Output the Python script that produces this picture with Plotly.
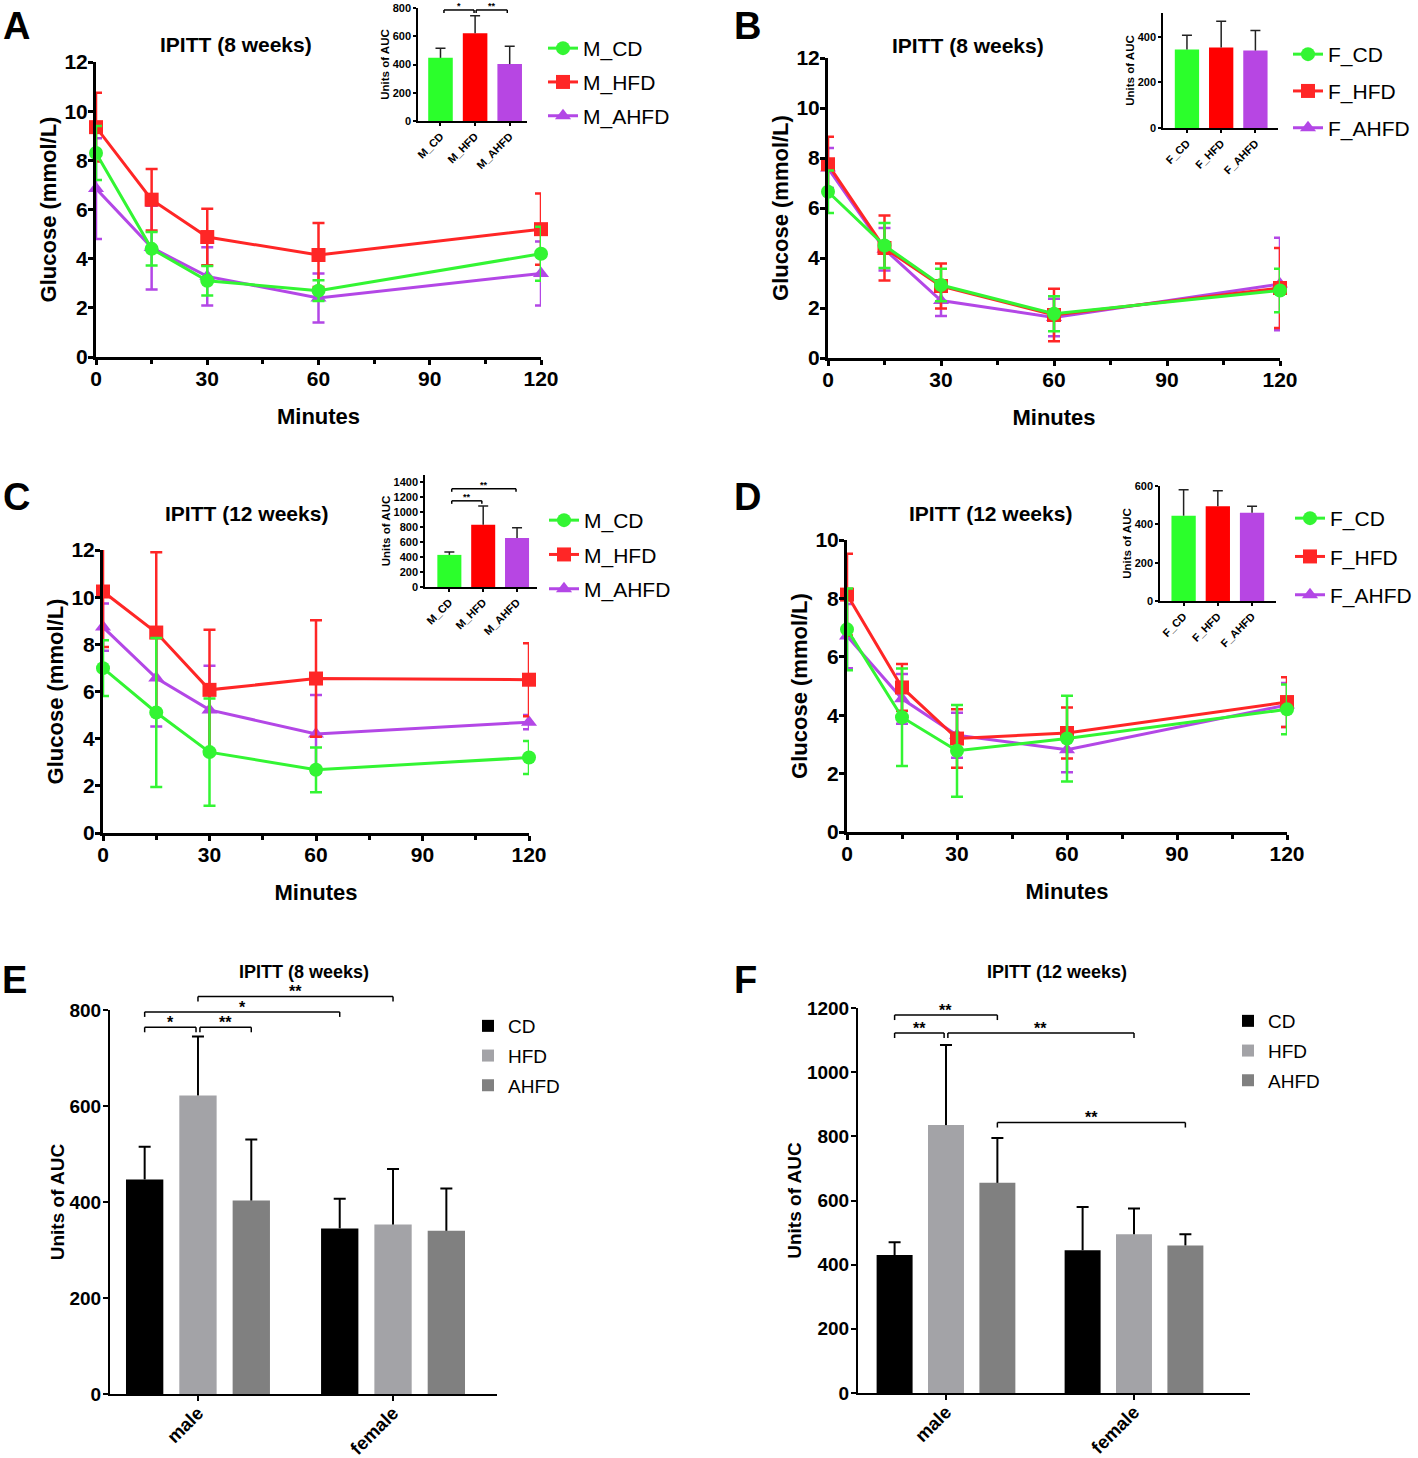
import plotly.graph_objects as go

W, H = 1418, 1458
FONT = 'Liberation Sans, Arial, sans-serif'

minutes = [0, 15, 30, 60, 120]

# A: male, 8 weeks
m8_cd = [8.3, 4.4, 3.1, 2.7, 4.2]
m8_cd_sd = [1.1, 0.68, 0.6, 0.42, 1.1]
m8_hfd = [9.35, 6.4, 4.88, 4.15, 5.2]
m8_hfd_sd = [1.4, 1.25, 1.15, 1.3, 1.45]
m8_ahfd = [6.85, 4.45, 3.28, 2.4, 3.4]
m8_ahfd_sd = [2.05, 1.7, 1.18, 1.0, 1.3]

# B: female, 8 weeks
f8_cd = [6.65, 4.5, 2.92, 1.77, 2.7]
f8_cd_sd = [0.85, 0.9, 0.65, 0.7, 0.87]
f8_hfd = [7.75, 4.4, 2.88, 1.72, 2.8]
f8_hfd_sd = [1.1, 1.3, 0.9, 1.05, 1.6]
f8_ahfd = [7.6, 4.35, 2.3, 1.62, 2.96]
f8_ahfd_sd = [0.8, 0.85, 0.62, 0.75, 1.85]

# C: male, 12 weeks
m12_cd = [6.99, 5.11, 3.43, 2.68, 3.2]
m12_cd_sd = [1.18, 3.16, 2.27, 0.95, 0.7]
m12_hfd = [10.24, 8.5, 6.07, 6.55, 6.5]
m12_hfd_sd = [2.35, 3.4, 2.55, 2.47, 1.55]
m12_ahfd = [8.73, 6.57, 5.22, 4.2, 4.7]
m12_ahfd_sd = [1.0, 2.05, 1.87, 1.65, 0.3]

# D: female, 12 weeks
f12_cd = [6.94, 3.93, 2.78, 3.2, 4.2]
f12_cd_sd = [1.4, 1.67, 1.57, 1.47, 0.85]
f12_hfd = [8.13, 4.95, 3.2, 3.39, 4.45]
f12_hfd_sd = [1.4, 0.8, 1.0, 0.87, 0.85]
f12_ahfd = [6.71, 4.56, 3.31, 2.82, 4.35]
f12_ahfd_sd = [1.1, 0.85, 0.77, 0.77, 0.75]

# AUC (CD, HFD, AHFD)
diets = ['CD', 'HFD', 'AHFD']
sexes = ['male', 'female']
male_labels = ['M_CD', 'M_HFD', 'M_AHFD']
female_labels = ['F_CD', 'F_HFD', 'F_AHFD']
auc8_male = [447, 622, 403]
auc8_male_sd = [68, 123, 127]
auc8_female = [345, 353, 340]
auc8_female_sd = [62, 116, 88]
auc12_male = [430, 835, 655]
auc12_male_sd = [40, 250, 140]
auc12_female = [445, 495, 460]
auc12_female_sd = [135, 80, 35]

line_colors = ['#33f533', '#ff2626', '#b347e6']
bar_colors = ['#2bff2b', '#ff0000', '#b746e3']
grey_colors = ['#000000', '#a3a3a7', '#808080']
symbols = ['circle', 'square', 'triangle-up']
CLEAR = 'rgba(0,0,0,0)'


def fx(p):
    return p / W


def fy(p):
    return 1 - p / H


def bold(size):
    return dict(family=FONT, size=size, color='black', weight='bold')


fig = go.Figure()
ybox = {}  # subplot -> (top px, bottom px, ymax)


def key(n):
    return '' if n == 1 else str(n)


def add_lines(n, series, labels, legend):
    k = key(n)
    # AHFD drawn first so CD ends on top; legendrank keeps CD, HFD, AHFD order
    for i in (2, 1, 0):
        y, sd = series[i]
        col = line_colors[i]
        fig.add_trace(go.Scatter(
            x=minutes, y=y, name=labels[i], mode='lines+markers',
            line=dict(color=col, width=3), marker=dict(color=col, size=14, symbol=symbols[i]),
            error_y=dict(type='data', array=sd, color=col, thickness=2.5, width=6),
            xaxis='x' + k, yaxis='y' + k, legend=legend, legendgroup=labels[i] + legend,
            legendrank=i + 1, cliponaxis=False))


def line_axes(n, xd, yd, ymax):
    k = key(n)
    fig.update_layout(**{
        'xaxis' + k: dict(domain=[fx(xd[0]), fx(xd[1])], anchor='y' + k, range=[0, 120], automargin=False,
                          tickvals=[0, 30, 60, 90, 120], ticks='outside', ticklen=5, tickwidth=3,
                          tickcolor='black', showline=True, linewidth=3, linecolor='black',
                          showgrid=False, zeroline=False, tickfont=bold(21), ticklabelstandoff=-4,
                          minor=dict(tickvals=[15, 45, 75, 105], ticks='outside', ticklen=4, tickwidth=3,
                                     tickcolor='black', showgrid=False),
                          title=dict(text='Minutes', font=bold(22), standoff=20)),
        'yaxis' + k: dict(domain=[fy(yd[1]), fy(yd[0])], anchor='x' + k, range=[0, ymax], dtick=2,
                          automargin=False, ticks='outside', ticklen=5, tickwidth=3, tickcolor='black',
                          showline=True, linewidth=3, linecolor='black', showgrid=False, zeroline=False,
                          tickfont=bold(21), ticklabelstandoff=-4,
                          title=dict(text='Glucose (mmol/L)', font=bold(22), standoff=2)),
    })


def add_inset(n, labels, vals, sds, xd, yd, ymax, dtick):
    k = key(n)
    ybox[n] = (yd[0], yd[1], ymax)
    fig.add_trace(go.Bar(
        x=labels, y=vals, width=0.71, offsetgroup='auc', marker=dict(color=bar_colors, line=dict(width=0)),
        error_y=dict(type='data', array=sds, arrayminus=[0] * len(sds), color='#222222',
                     thickness=1.5, width=0),
        xaxis='x' + k, yaxis='y' + k, showlegend=False))
    # invisible bar whose zero-length error bar draws the cap
    fig.add_trace(go.Bar(
        x=labels, y=[v + s for v, s in zip(vals, sds)], width=0.71, offsetgroup='auc',
        marker=dict(color=CLEAR, line=dict(width=0)),
        error_y=dict(type='data', array=[0] * len(sds), color='#222222', thickness=1.5, width=5),
        xaxis='x' + k, yaxis='y' + k, showlegend=False, hoverinfo='skip'))
    fig.update_layout(**{
        'xaxis' + k: dict(domain=[fx(xd[0]), fx(xd[1])], anchor='y' + k, type='category', automargin=False,
                          range=[xd[2], xd[3]], ticks='outside', ticklen=3, tickwidth=1.5, tickcolor='black',
                          showline=True, linewidth=1.5, linecolor='black', showgrid=False,
                          tickangle=-45, tickfont=bold(11)),
        'yaxis' + k: dict(domain=[fy(yd[1]), fy(yd[0])], anchor='x' + k, range=[0, ymax], dtick=dtick,
                          automargin=False, ticks='outside', ticklen=3, tickwidth=1.5, tickcolor='black',
                          showline=True, linewidth=1.5, linecolor='black', showgrid=False, zeroline=False,
                          tickfont=bold(11),
                          title=dict(text='Units of AUC', font=bold(11.5), standoff=1)),
    })


def add_auc(n, male, male_sd, female, female_sd, legend, xd, yd, ymax):
    k = key(n)
    ybox[n] = (yd[0], yd[1], ymax)
    for i, d in enumerate(diets):
        vals = [male[i], female[i]]
        sds = [male_sd[i], female_sd[i]]
        fig.add_trace(go.Bar(
            x=sexes, y=vals, name=d, offsetgroup=d,
            marker=dict(color=grey_colors[i], line=dict(width=0)),
            error_y=dict(type='data', array=sds, arrayminus=[0, 0], color='black', thickness=2, width=0),
            xaxis='x' + k, yaxis='y' + k, legend=legend, legendgroup=d + legend))
        fig.add_trace(go.Bar(
            x=sexes, y=[v + s for v, s in zip(vals, sds)], offsetgroup=d,
            marker=dict(color=CLEAR, line=dict(width=0)),
            error_y=dict(type='data', array=[0, 0], color='black', thickness=2, width=6),
            xaxis='x' + k, yaxis='y' + k, showlegend=False, hoverinfo='skip'))
    fig.update_layout(**{
        'xaxis' + k: dict(domain=[fx(xd[0]), fx(xd[1])], anchor='y' + k, type='category', automargin=False,
                          range=[xd[2], xd[3]], ticks='outside', ticklen=5, tickwidth=2, tickcolor='black',
                          showline=True, linewidth=2, linecolor='black', showgrid=False,
                          tickangle=-45, tickfont=bold(18.5), ticklabelstandoff=-6),
        'yaxis' + k: dict(domain=[fy(yd[1]), fy(yd[0])], anchor='x' + k, range=[0, ymax], dtick=200,
                          automargin=False, ticks='outside', ticklen=5, tickwidth=2, tickcolor='black',
                          showline=True, linewidth=2, linecolor='black', showgrid=False, zeroline=False,
                          tickfont=bold(19), ticklabelstandoff=-2,
                          title=dict(text='Units of AUC', font=bold(19), standoff=0)),
    })


def bracket(n, x0, x1, y, text, drop, size):
    # y is a data value; placed in paper space so brackets above the axis top are not clipped
    k = key(n)
    top, bot, ymax = ybox[n]
    yp = fy(bot + (top - bot) * y / ymax)
    ln = dict(color='black', width=1.5)
    fig.add_shape(type='line', xref='x' + k, yref='paper', x0=x0, x1=x1, y0=yp, y1=yp, line=ln)
    for xx in (x0, x1):
        fig.add_shape(type='line', xref='x' + k, yref='paper', x0=xx, x1=xx, ysizemode='pixel',
                      yanchor=yp, y0=0, y1=-drop, line=ln)
    fig.add_annotation(xref='x' + k, yref='paper', x=(x0 + x1) / 2, y=yp, text=text, showarrow=False,
                       yanchor='bottom', yshift=-0.35 * size, font=bold(size))


# line charts
add_lines(1, [(m8_cd, m8_cd_sd), (m8_hfd, m8_hfd_sd), (m8_ahfd, m8_ahfd_sd)], male_labels, 'legend')
add_lines(2, [(f8_cd, f8_cd_sd), (f8_hfd, f8_hfd_sd), (f8_ahfd, f8_ahfd_sd)], female_labels, 'legend2')
add_lines(3, [(m12_cd, m12_cd_sd), (m12_hfd, m12_hfd_sd), (m12_ahfd, m12_ahfd_sd)], male_labels, 'legend3')
add_lines(4, [(f12_cd, f12_cd_sd), (f12_hfd, f12_hfd_sd), (f12_ahfd, f12_ahfd_sd)], female_labels, 'legend4')
line_axes(1, (96, 541), (62, 357), 12)
line_axes(2, (828, 1280), (58, 358), 12)
line_axes(3, (103, 529), (550, 833), 12)
line_axes(4, (847, 1287), (540, 832), 10)

# grouped AUC bars
D = 0.2733
add_auc(5, auc8_male, auc8_male_sd, auc8_female, auc8_female_sd, 'legend5',
        (110, 497, -0.451, 1.533), (1010, 1394), 800)
add_auc(6, auc12_male, auc12_male_sd, auc12_female, auc12_female_sd, 'legend6',
        (858, 1250, -0.468, 1.617), (1008, 1393), 1200)

# insets
add_inset(7, male_labels, auc8_male, auc8_male_sd, (418, 527, -0.65, 2.5), (8, 121), 800, 200)
add_inset(8, female_labels, auc8_female, auc8_female_sd, (1163, 1278, -0.7, 2.66), (13, 128), 505, 200)
add_inset(9, male_labels, auc12_male, auc12_male_sd, (425, 537, -0.72, 2.59), (475, 587), 1500, 200)
add_inset(10, female_labels, auc12_female, auc12_female_sd, (1160, 1276, -0.69, 2.7), (486, 601), 600, 200)

# significance
bracket(5, -D, -0.01, 764, '*', 5, 16)
bracket(5, 0.01, D, 764, '**', 5, 16)
bracket(5, -D, 1 - D, 796, '*', 5, 16)
bracket(5, 0, 1, 828, '**', 5, 16)
bracket(6, -D, -0.01, 1122, '**', 5, 16)
bracket(6, -D, D, 1178, '**', 5, 16)
bracket(6, 0.01, 1, 1122, '**', 5, 16)
bracket(6, D, 1 + D, 843, '**', 5, 16)
bracket(7, 0.1, 0.97, 786, '*', 3, 9)
bracket(7, 1.03, 1.93, 786, '**', 3, 9)
bracket(9, 0.07, 0.96, 1154, '**', 3, 9)
bracket(9, 0.07, 1.97, 1315, '**', 3, 9)

leg = dict(bgcolor=CLEAR, xanchor='left', yanchor='top', traceorder='grouped',
           font=dict(family=FONT, size=21, color='black'))
leg_bar = dict(bgcolor=CLEAR, xanchor='left', yanchor='top', tracegroupgap=2,
               traceorder='grouped', font=dict(family=FONT, size=19, color='black'))
fig.update_layout(
    legend=dict(leg, x=fx(543), y=fy(28), tracegroupgap=3.5),
    legend2=dict(leg, x=fx(1288), y=fy(34), tracegroupgap=6.5),
    legend3=dict(leg, x=fx(544), y=fy(500), tracegroupgap=4),
    legend4=dict(leg, x=fx(1290), y=fy(498), tracegroupgap=8),
    legend5=dict(leg_bar, x=fx(468), y=fy(1007)),
    legend6=dict(leg_bar, x=fx(1228), y=fy(1002)),
)

# panel letters and titles
for letter, (px, py) in zip('ABCDEF', [(16, 26), (748, 26), (16, 497), (748, 497), (15, 980), (745, 980)]):
    fig.add_annotation(xref='paper', yref='paper', x=fx(px), y=fy(py), text=letter, showarrow=False,
                       xanchor='center', yanchor='middle', font=bold(38))
titles = [('IPITT (8 weeks)', 236, 44, 21), ('IPITT (8 weeks)', 968, 45, 21),
          ('IPITT (12 weeks)', 246, 513, 21), ('IPITT (12 weeks)', 990, 513, 21),
          ('IPITT (8 weeks)', 304, 972, 18), ('IPITT (12 weeks)', 1057, 972, 18)]
for t, px, py, s in titles:
    fig.add_annotation(xref='paper', yref='paper', x=fx(px), y=fy(py), text=t, showarrow=False,
                       xanchor='center', yanchor='middle', font=bold(s))

fig.update_layout(
    width=W, height=H, margin=dict(l=0, r=0, t=0, b=0, autoexpand=False),
    paper_bgcolor='white', plot_bgcolor='white',
    barmode='group', bargap=0.18, bargroupgap=0.3,
    font=dict(family=FONT, color='black'),
)

# drop the default 8px body margin so the figure sits at the page origin
fig.write_html("out.html", config={'displayModeBar': False},
               post_script="document.body.style.margin='0';")
